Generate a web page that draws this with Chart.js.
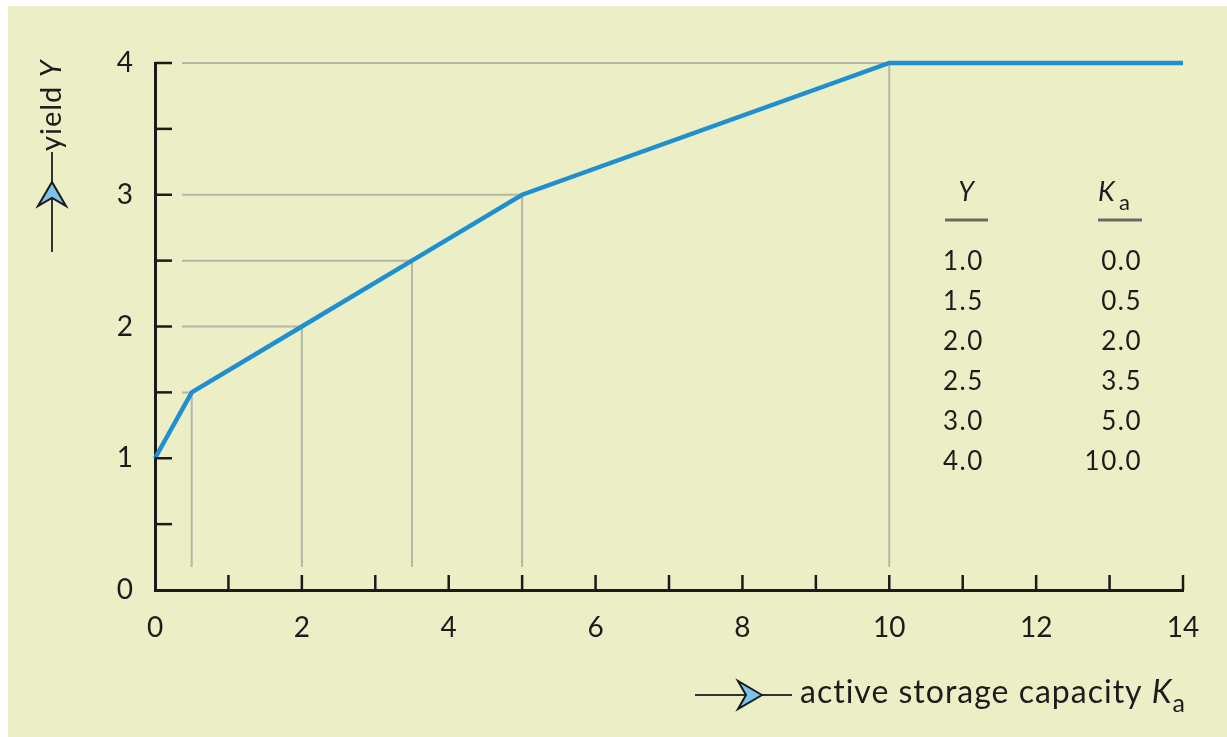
<!DOCTYPE html>
<html>
<head>
<meta charset="utf-8">
<script src="https://cdn.jsdelivr.net/npm/chart.js@4.4.1/dist/chart.umd.min.js"></script>
<style>
  html, body { margin: 0; padding: 0; background: #fff; }
  #wrap { width: 1227px; height: 737px; }
</style>
</head>
<body>
<div id="wrap"><canvas id="grafico"></canvas></div>
<script>
// break points of the yield curve (also listed in the table)
const breakCapacity = [0.0, 0.5, 2.0, 3.5, 5.0, 10.0];
const breakYield = [1.0, 1.5, 2.0, 2.5, 3.0, 4.0];
// curve stays flat up to the end of the axis
const endCapacity = 14;
const endYield = 4;
const xTickLabels = [0, 2, 4, 6, 8, 10, 12, 14];
const yTickLabels = [0, 1, 2, 3, 4];

const FONT = 'Lato, "DejaVu Sans", sans-serif';
const INK = '#1c1c1c';

const curve = breakCapacity.map((k, i) => ({ x: k, y: breakYield[i] }));
curve.push({ x: endCapacity, y: endYield });

// dart shaped arrow head, tip at (0,0) pointing along +x
const drawDart = (ctx, x, y, angle) => {
  ctx.save();
  ctx.translate(x, y);
  ctx.rotate(angle);
  ctx.beginPath();
  ctx.moveTo(0, 0);
  ctx.lineTo(-24, -14);
  ctx.lineTo(-16, 0);
  ctx.lineTo(-24, 14);
  ctx.closePath();
  ctx.fillStyle = '#7cc3ea';
  ctx.fill();
  ctx.lineWidth = 2;
  ctx.strokeStyle = '#1a1a1a';
  ctx.stroke();
  ctx.restore();
};

const paperPlugin = {
  id: 'paper',
  beforeDraw(chart) {
    const ctx = chart.ctx;
    ctx.save();
    ctx.fillStyle = '#ffffff';
    ctx.fillRect(0, 0, chart.width, chart.height);
    ctx.fillStyle = '#ecefc6';
    ctx.fillRect(8, 6, chart.width - 8, chart.height - 6);
    ctx.restore();
  },
  beforeDatasetsDraw(chart) {
    const { ctx, scales: { x, y } } = chart;
    ctx.save();
    ctx.strokeStyle = '#b4b6a8';
    ctx.lineWidth = 2;
    // guide lines down to the axis and across to the axis
    for (let i = 1; i < breakCapacity.length; i++) {
      const px = x.getPixelForValue(breakCapacity[i]);
      const py = y.getPixelForValue(breakYield[i]);
      ctx.beginPath();
      ctx.moveTo(x.left + 27, py);
      ctx.lineTo(px, py);
      ctx.moveTo(px, py);
      ctx.lineTo(px, y.bottom - 23);
      ctx.stroke();
    }
    ctx.restore();
  },
  afterDraw(chart) {
    const { ctx, scales: { x, y } } = chart;
    ctx.save();
    // inward tick marks
    ctx.strokeStyle = '#1a1a1a';
    ctx.lineWidth = 2.5;
    for (let v = 1; v <= endCapacity; v++) {
      const px = x.getPixelForValue(v);
      ctx.beginPath();
      ctx.moveTo(px, y.bottom);
      ctx.lineTo(px, y.bottom - 15);
      ctx.stroke();
    }
    for (let v = 0.5; v <= 4; v += 0.5) {
      const py = y.getPixelForValue(v);
      ctx.beginPath();
      ctx.moveTo(x.left, py);
      ctx.lineTo(x.left + 17, py);
      ctx.stroke();
    }

    // table of break points
    ctx.fillStyle = INK;
    ctx.textBaseline = 'middle';
    ctx.font = 'italic 27px ' + FONT;
    ctx.textAlign = 'center';
    ctx.fillText('Y', 966, 192);
    ctx.textAlign = 'left';
    ctx.fillText('K', 1098, 192);
    ctx.font = '22px ' + FONT;
    ctx.fillText('a', 1119, 203);
    ctx.strokeStyle = '#6a6b60';
    ctx.lineWidth = 3;
    ctx.beginPath();
    ctx.moveTo(945, 220); ctx.lineTo(988, 220);
    ctx.moveTo(1098, 220); ctx.lineTo(1142, 220);
    ctx.stroke();
    ctx.font = '26px ' + FONT;
    ctx.letterSpacing = '1.5px';
    breakYield.forEach((v, i) => {
      const ty = 262 + i * 40;
      ctx.textAlign = 'left';
      ctx.fillText(v.toFixed(1), 943, ty);
      ctx.textAlign = 'right';
      ctx.fillText(breakCapacity[i].toFixed(1), 1142, ty);
    });

    // x axis title with arrow
    ctx.strokeStyle = '#333';
    ctx.lineWidth = 2;
    ctx.beginPath();
    ctx.moveTo(695, 695);
    ctx.lineTo(792, 695);
    ctx.stroke();
    drawDart(ctx, 762, 695, 0);
    ctx.fillStyle = INK;
    ctx.textAlign = 'left';
    ctx.letterSpacing = '1px';
    ctx.font = '32px ' + FONT;
    const xt = 'active storage capacity ';
    ctx.fillText(xt, 800, 693);
    const w = ctx.measureText(xt).width;
    ctx.font = 'italic 32px ' + FONT;
    ctx.fillText('K', 800 + w, 693);
    const wk = ctx.measureText('K').width;
    ctx.font = '25px ' + FONT;
    ctx.fillText('a', 800 + w + wk, 704);

    // y axis title with arrow
    ctx.save();
    ctx.translate(52, 0);
    ctx.rotate(-Math.PI / 2);
    ctx.strokeStyle = '#333';
    ctx.beginPath();
    ctx.moveTo(-252, 0);
    ctx.lineTo(-152, 0);
    ctx.stroke();
    drawDart(ctx, -182, 0, 0);
    ctx.fillStyle = INK;
    ctx.textAlign = 'left';
    ctx.font = '29px ' + FONT;
    ctx.fillText('yield ', -151, 0);
    const wy = ctx.measureText('yield ').width;
    ctx.font = 'italic 29px ' + FONT;
    ctx.fillText('Y', -151 + wy, 0);
    ctx.restore();

    ctx.restore();
  }
};

new Chart(document.getElementById('grafico'), {
  type: 'line',
  data: {
    datasets: [{
      data: curve,
      borderColor: '#1f8fd0',
      borderWidth: 4.5,
      pointRadius: 0,
      tension: 0,
      borderJoinStyle: 'miter',
      clip: false
    }]
  },
  options: {
    responsive: true,
    maintainAspectRatio: false,
    animation: false,
    layout: { padding: { left: 95, right: 44, top: 63, bottom: 87 } },
    plugins: { legend: { display: false }, tooltip: { enabled: false } },
    scales: {
      x: {
        type: 'linear',
        min: 0,
        max: endCapacity,
        afterFit: (s) => { s.height = 60; },
        afterBuildTicks: (s) => { s.ticks = xTickLabels.map(v => ({ value: v })); },
        grid: { drawOnChartArea: false, drawTicks: false },
        border: { color: '#1a1a1a', width: 3 },
        ticks: { padding: 21, color: INK, font: { family: FONT, size: 28 } }
      },
      y: {
        type: 'linear',
        min: 0,
        max: 4,
        afterFit: (s) => { s.width = 60; },
        afterBuildTicks: (s) => { s.ticks = yTickLabels.map(v => ({ value: v })); },
        grid: { drawOnChartArea: false, drawTicks: false },
        border: { color: '#1a1a1a', width: 3 },
        ticks: { padding: 22, color: INK, font: { family: FONT, size: 28 } }
      }
    }
  },
  plugins: [paperPlugin]
});
</script>
</body>
</html>
